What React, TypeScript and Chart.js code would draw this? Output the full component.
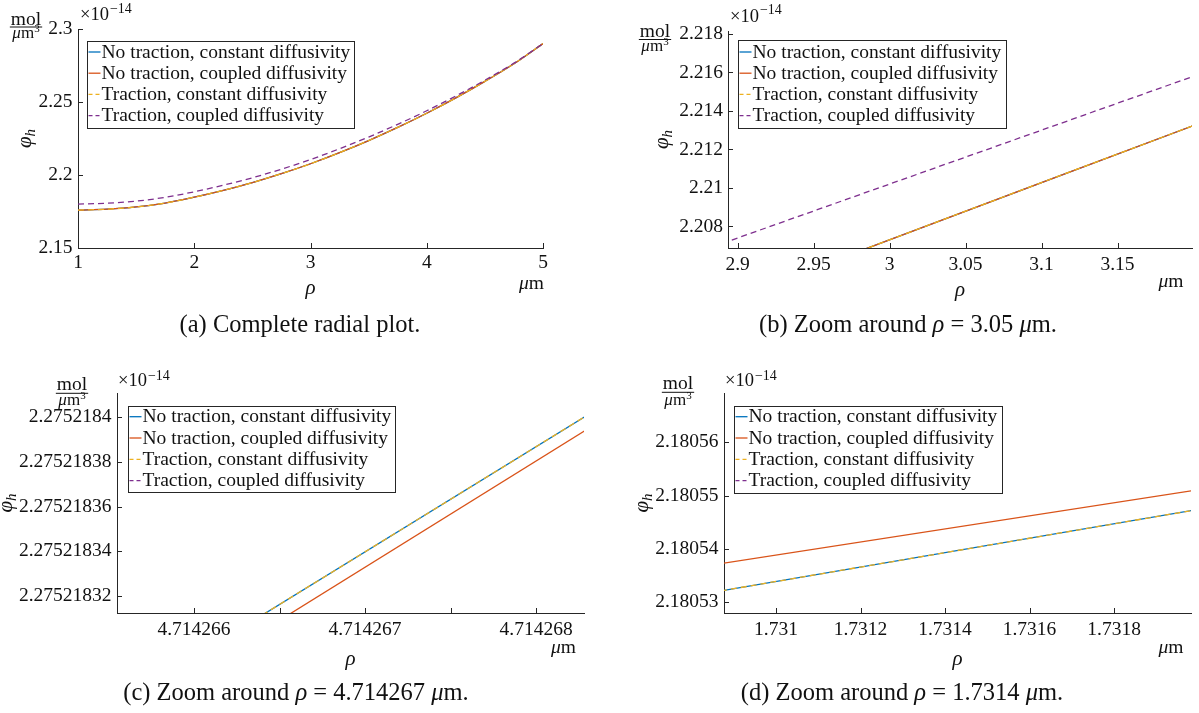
import React, { useEffect, useRef } from 'react';
import { Chart, registerables } from 'chart.js';

Chart.register(...registerables);

// ---------------- data ----------------
const seriesLabels = [
  'No traction, constant diffusivity',
  'No traction, coupled diffusivity',
  'Traction, constant diffusivity',
  'Traction, coupled diffusivity',
];

// (a) complete radial plot
const rhoA = [1, 1.25, 1.5, 1.75, 2, 2.25, 2.5, 2.75, 3, 3.25, 3.5, 3.75, 4, 4.25, 4.5, 4.75, 5];
const phiNoTracConstA = [2.176, 2.1766, 2.1781, 2.1808, 2.1848, 2.1895, 2.1948, 2.2009, 2.2077, 2.2153, 2.2236, 2.2326, 2.2423, 2.2528, 2.2641, 2.2762, 2.29];
const phiNoTracCoupA = [2.176, 2.1766, 2.1781, 2.1808, 2.1848, 2.1895, 2.1948, 2.2009, 2.2077, 2.2153, 2.2236, 2.2326, 2.2423, 2.2528, 2.2641, 2.2762, 2.29];
const phiTracConstA = [2.176, 2.1766, 2.1781, 2.1808, 2.1848, 2.1895, 2.1948, 2.2009, 2.2077, 2.2153, 2.2236, 2.2326, 2.2423, 2.2528, 2.2641, 2.2762, 2.29];
const phiTracCoupA = [2.1801, 2.1807, 2.1821, 2.1847, 2.1885, 2.193, 2.1981, 2.204, 2.2106, 2.218, 2.226, 2.2347, 2.244, 2.2541, 2.2649, 2.2766, 2.29];
const aXTicks = [1, 2, 3, 4, 5];
const aXTickLabels = ['1', '2', '3', '4', '5'];
const aYTicks = [2.15, 2.2, 2.25, 2.3];
const aYTickLabels = ['2.15', '2.2', '2.25', '2.3'];

// (b) zoom around 3.05
const rhoBSolid = [2.98, 3.1, 3.2];
const phiNoTracConstB = [2.20671, 2.21028, 2.21324];
const phiNoTracCoupB = [2.20671, 2.21028, 2.21324];
const phiTracConstB = [2.20671, 2.21028, 2.21324];
const rhoBTrac = [2.89, 3.0, 3.1, 3.2];
const phiTracCoupB = [2.20712, 2.2102, 2.213, 2.2158];
const bXTicks = [2.9, 2.95, 3, 3.05, 3.1, 3.15];
const bXTickLabels = ['2.9', '2.95', '3', '3.05', '3.1', '3.15'];
const bYTicks = [2.208, 2.21, 2.212, 2.214, 2.216, 2.218];
const bYTickLabels = ['2.208', '2.21', '2.212', '2.214', '2.216', '2.218'];

// (c) zoom around 4.714267
const rhoCConst = [4.7142664, 4.7142683];
const phiNoTracConstC = [2.2752183115, 2.275218401];
const rhoCCoup = [4.7142665, 4.7142683];
const phiNoTracCoupC = [2.2752183091, 2.2752183947];
const phiTracConstC = [2.2752183115, 2.275218401];
const phiTracCoupC = [2.2756, 2.2756];
const cXTicks = [4.714266, 4.7142665, 4.714267, 4.7142675, 4.714268];
const cXTickLabels = ['4.714266', '', '4.714267', '', '4.714268'];
const cYTicks = [2.27521832, 2.27521834, 2.27521836, 2.27521838, 2.2752184];
const cYTickLabels = ['2.27521832', '2.27521834', '2.27521836', '2.27521838', '2.2752184'];

// (d) zoom around 1.7314
const rhoD = [1.7308, 1.732];
const phiNoTracConstD = [2.1805312, 2.1805474];
const phiNoTracCoupD = [2.1805364, 2.1805511];
const phiTracConstD = [2.1805312, 2.1805474];
const phiTracCoupD = [2.18443, 2.18445];
const dXTicks = [1.731, 1.7312, 1.7314, 1.7316, 1.7318];
const dXTickLabels = ['1.731', '1.7312', '1.7314', '1.7316', '1.7318'];
const dYTicks = [2.18053, 2.18054, 2.18055, 2.18056];
const dYTickLabels = ['2.18053', '2.18054', '2.18055', '2.18056'];

// ---------------- styles ----------------
const SERIF = '"Liberation Serif", "Times New Roman", serif';
const AXIS_COLOR = '#262626';
const TEXT_COLOR = '#111111';
const seriesColors = ['#0072BD', '#D95319', '#EDB120', '#7E2F8E'];
const seriesDashes = [[], [], [6, 4], [6, 4]];
const TICK_SIZE = 19.5;
const LEG_SIZE = 19.5;
const CAP_SIZE = 24.5;

const fnt = (size: number, italic = false) => `${italic ? 'italic ' : ''}${size}px ${SERIF}`;

type Seg = { t: string; f: string; dy?: number };

function drawSegs(ctx: CanvasRenderingContext2D, segs: Seg[], x: number, y: number, align: 'left' | 'center' | 'right') {
  let total = 0;
  const widths = segs.map((s) => {
    ctx.font = s.f;
    const w = ctx.measureText(s.t).width;
    total += w;
    return w;
  });
  let cx = align === 'left' ? x : align === 'center' ? x - total / 2 : x - total;
  ctx.textAlign = 'left';
  ctx.textBaseline = 'alphabetic';
  segs.forEach((s, i) => {
    ctx.font = s.f;
    ctx.fillText(s.t, cx, y + (s.dy || 0));
    cx += widths[i];
  });
  return total;
}

function captionSegs(tag: string, value: string | null, text?: string): Seg[] {
  if (value === null) return [{ t: `${tag} ${text}`, f: fnt(CAP_SIZE) }];
  return [
    { t: `${tag} Zoom around `, f: fnt(CAP_SIZE) },
    { t: 'ρ', f: fnt(CAP_SIZE, true) },
    { t: ` = ${value} `, f: fnt(CAP_SIZE) },
    { t: 'μ', f: fnt(CAP_SIZE, true) },
    { t: 'm.', f: fnt(CAP_SIZE) },
  ];
}

type Series = { x: number[]; y: number[] };
type Spec = {
  key: string;
  box: { left: number; top: number; width: number; height: number };
  area: { l: number; t: number; r: number; b: number };
  xMin: number; xMax: number; yMin: number; yMax: number;
  xTicks: number[]; xTickLabels: string[]; yTicks: number[]; yTickLabels: string[];
  series: Series[];
  smooth: boolean;
  xPad: number; yPad: number;
  legend: { l: number; t: number; r: number; b: number; rows: number[] };
  frac: { cx: number; mol: number; bar: number; den: number };
  exp: { x: number; base: number; supBase: number };
  ylabX: number;
  rhoBase: number;
  unit: { cx: number; base: number };
  caption: { cx: number; base: number; segs: Seg[] };
};

const panels: Spec[] = [
  {
    key: 'a',
    box: { left: 0, top: 0, width: 600, height: 356 },
    area: { l: 78, t: 29, r: 543, b: 248 },
    xMin: 1, xMax: 5, yMin: 2.15, yMax: 2.3,
    xTicks: aXTicks, xTickLabels: aXTickLabels, yTicks: aYTicks, yTickLabels: aYTickLabels,
    series: [
      { x: rhoA, y: phiNoTracConstA },
      { x: rhoA, y: phiNoTracCoupA },
      { x: rhoA, y: phiTracConstA },
      { x: rhoA, y: phiTracCoupA },
    ],
    smooth: true,
    xPad: 3.5, yPad: 5.5,
    legend: { l: 87, t: 41, r: 354, b: 128, rows: [52, 73.2, 94.4, 115.6] },
    frac: { cx: 26, mol: 25, bar: 27, den: 38 },
    exp: { x: 80, base: 20, supBase: 12.5 },
    ylabX: 31,
    rhoBase: 294,
    unit: { cx: 531.5, base: 289 },
    caption: { cx: 300, base: 332, segs: captionSegs('(a)', null, 'Complete radial plot.') },
  },
  {
    key: 'b',
    box: { left: 600, top: 0, width: 599, height: 356 },
    area: { l: 128, t: 31, r: 592, b: 248 },
    xMin: 2.8937, xMax: 3.199, yMin: 2.20688, yMax: 2.21815,
    xTicks: bXTicks, xTickLabels: bXTickLabels, yTicks: bYTicks, yTickLabels: bYTickLabels,
    series: [
      { x: rhoBSolid, y: phiNoTracConstB },
      { x: rhoBSolid, y: phiNoTracCoupB },
      { x: rhoBSolid, y: phiTracConstB },
      { x: rhoBTrac, y: phiTracCoupB },
    ],
    smooth: false,
    xPad: 5.5, yPad: 5,
    legend: { l: 138, t: 40, r: 406, b: 128, rows: [52, 73.2, 94.4, 115.6] },
    frac: { cx: 55, mol: 36.5, bar: 39.5, den: 50.5 },
    exp: { x: 130, base: 21.7, supBase: 14 },
    ylabX: 68,
    rhoBase: 296,
    unit: { cx: 571, base: 287 },
    caption: { cx: 308, base: 332, segs: captionSegs('(b)', '3.05') },
  },
  {
    key: 'c',
    box: { left: 0, top: 356, width: 600, height: 357 },
    area: { l: 117, t: 37, r: 584, b: 257 },
    xMin: 4.71426555, xMax: 4.71426828, yMin: 2.2752183124, yMax: 2.2752184109,
    xTicks: cXTicks, xTickLabels: cXTickLabels, yTicks: cYTicks, yTickLabels: cYTickLabels,
    series: [
      { x: rhoCConst, y: phiNoTracConstC },
      { x: rhoCCoup, y: phiNoTracCoupC },
      { x: rhoCConst, y: phiTracConstC },
      { x: rhoCConst, y: phiTracCoupC },
    ],
    smooth: false,
    xPad: 5.5, yPad: 5.5,
    legend: { l: 128, t: 49.7, r: 395, b: 136, rows: [60.7, 82, 103.3, 124.7] },
    frac: { cx: 72, mol: 34, bar: 37.3, den: 49 },
    exp: { x: 118, base: 29.7, supBase: 24 },
    ylabX: 12,
    rhoBase: 308.5,
    unit: { cx: 563.5, base: 297 },
    caption: { cx: 296, base: 344, segs: captionSegs('(c)', '4.714267') },
  },
  {
    key: 'd',
    box: { left: 600, top: 356, width: 599, height: 357 },
    area: { l: 124, t: 37, r: 591, b: 257 },
    xMin: 1.730877, xMax: 1.731982, yMin: 2.180528, yMax: 2.1805692,
    xTicks: dXTicks, xTickLabels: dXTickLabels, yTicks: dYTicks, yTickLabels: dYTickLabels,
    series: [
      { x: rhoD, y: phiNoTracConstD },
      { x: rhoD, y: phiNoTracCoupD },
      { x: rhoD, y: phiTracConstD },
      { x: rhoD, y: phiTracCoupD },
    ],
    smooth: false,
    xPad: 5.5, yPad: 5.5,
    legend: { l: 134, t: 49.7, r: 402, b: 137, rows: [60.7, 82, 103.3, 124.7] },
    frac: { cx: 78, mol: 33.3, bar: 36.3, den: 49 },
    exp: { x: 125, base: 29.7, supBase: 24 },
    ylabX: 48,
    rhoBase: 308.5,
    unit: { cx: 571, base: 297 },
    caption: { cx: 302, base: 344, segs: captionSegs('(d)', '1.7314') },
  },
];

function decorPlugin(spec: Spec) {
  return {
    id: 'decor_' + spec.key,
    afterDraw(chart: any) {
      const ctx: CanvasRenderingContext2D = chart.ctx;
      const ca = chart.chartArea;
      const xs = chart.scales.x;
      const ys = chart.scales.y;
      ctx.save();
      // inward ticks
      ctx.strokeStyle = AXIS_COLOR;
      ctx.lineWidth = 1;
      ctx.setLineDash([]);
      ctx.beginPath();
      xs.ticks.forEach((t: any) => {
        const px = Math.round(xs.getPixelForValue(t.value)) + 0.5;
        ctx.moveTo(px, ca.bottom);
        ctx.lineTo(px, ca.bottom - 5);
      });
      ys.ticks.forEach((t: any) => {
        const py = Math.round(ys.getPixelForValue(t.value)) + 0.5;
        ctx.moveTo(ca.left, py);
        ctx.lineTo(ca.left + 5, py);
      });
      ctx.stroke();

      // legend
      const lg = spec.legend;
      ctx.fillStyle = '#ffffff';
      ctx.fillRect(lg.l, lg.t, lg.r - lg.l, lg.b - lg.t);
      ctx.strokeStyle = AXIS_COLOR;
      ctx.lineWidth = 1;
      ctx.strokeRect(Math.round(lg.l) + 0.5, Math.round(lg.t) + 0.5, Math.round(lg.r - lg.l), Math.round(lg.b - lg.t));
      seriesLabels.forEach((label, i) => {
        const y = lg.rows[i];
        ctx.strokeStyle = seriesColors[i];
        ctx.lineWidth = 1.3;
        ctx.setLineDash(i >= 2 ? [4, 3] : []);
        ctx.beginPath();
        ctx.moveTo(lg.l + 1.5, y);
        ctx.lineTo(lg.l + 13.5, y);
        ctx.stroke();
        ctx.setLineDash([]);
        ctx.fillStyle = TEXT_COLOR;
        ctx.font = fnt(LEG_SIZE);
        ctx.textAlign = 'left';
        ctx.textBaseline = 'middle';
        ctx.fillText(label, lg.l + 14.5, y + 0.5);
      });

      ctx.fillStyle = TEXT_COLOR;
      // unit fraction mol / µm^3
      const fr = spec.frac;
      drawSegs(ctx, [{ t: 'mol', f: fnt(19.5) }], fr.cx, fr.mol, 'center');
      const denW = drawSegs(
        ctx,
        [
          { t: 'μ', f: fnt(17, true) },
          { t: 'm', f: fnt(17) },
          { t: '3', f: fnt(11), dy: -6 },
        ],
        fr.cx,
        fr.den,
        'center'
      );
      ctx.font = fnt(19.5);
      const molW = ctx.measureText('mol').width;
      const bw = Math.max(molW, denW) + 2;
      ctx.fillRect(fr.cx - bw / 2, fr.bar - 0.5, bw, 1);

      // exponent ×10^-14
      const ex = spec.exp;
      const w10 = drawSegs(ctx, [{ t: '×10', f: fnt(18.5) }], ex.x, ex.base, 'left');
      drawSegs(ctx, [{ t: '−14', f: fnt(14) }], ex.x + w10 + 1, ex.supBase, 'left');

      // y label φ_h (rotated)
      ctx.save();
      ctx.translate(spec.ylabX, (ca.top + ca.bottom) / 2);
      ctx.rotate(-Math.PI / 2);
      drawSegs(
        ctx,
        [
          { t: 'φ', f: fnt(21, true) },
          { t: 'h', f: fnt(15, true), dy: 4 },
        ],
        0,
        0,
        'center'
      );
      ctx.restore();

      // x label ρ and unit µm
      drawSegs(ctx, [{ t: 'ρ', f: fnt(21, true) }], (ca.left + ca.right) / 2, spec.rhoBase, 'center');
      drawSegs(
        ctx,
        [
          { t: 'μ', f: fnt(19.5, true) },
          { t: 'm', f: fnt(19.5) },
        ],
        spec.unit.cx,
        spec.unit.base,
        'center'
      );

      // caption
      drawSegs(ctx, spec.caption.segs, spec.caption.cx, spec.caption.base, 'center');
      ctx.restore();
    },
  };
}

function makeChart(canvas: HTMLCanvasElement, spec: Spec) {
  const W = spec.box.width;
  const H = spec.box.height;
  const datasets = spec.series.map((s, i) => ({
    label: seriesLabels[i],
    data: s.x.map((x, j) => ({ x, y: s.y[j] })),
    borderColor: seriesColors[i],
    backgroundColor: seriesColors[i],
    borderWidth: 1.3,
    borderDash: seriesDashes[i],
    pointRadius: 0,
    pointHoverRadius: 0,
    fill: false,
    tension: 0,
    cubicInterpolationMode: spec.smooth ? 'monotone' : 'default',
    order: 4 - i,
  }));
  const tickFont = { family: SERIF, size: TICK_SIZE, lineHeight: 1.2 };
  return new Chart(canvas, {
    type: 'line',
    data: { datasets } as any,
    options: {
      animation: false,
      responsive: false,
      maintainAspectRatio: false,
      events: [],
      layout: { padding: { left: 0, top: spec.area.t, right: W - spec.area.r, bottom: 0 } },
      plugins: { legend: { display: false }, tooltip: { enabled: false } },
      scales: {
        x: {
          type: 'linear',
          position: 'bottom',
          min: spec.xMin,
          max: spec.xMax,
          grid: { display: false, drawTicks: false },
          border: { display: true, color: AXIS_COLOR, width: 1 },
          ticks: {
            autoSkip: false,
            maxRotation: 0,
            minRotation: 0,
            padding: spec.xPad,
            color: TEXT_COLOR,
            font: tickFont,
            callback: (_v: any, i: number) => spec.xTickLabels[i] ?? '',
          },
          afterBuildTicks: (s: any) => {
            s.ticks = spec.xTicks.map((v) => ({ value: v }));
          },
          afterFit: (s: any) => {
            s.height = H - spec.area.b;
          },
        },
        y: {
          type: 'linear',
          position: 'left',
          min: spec.yMin,
          max: spec.yMax,
          grid: { display: false, drawTicks: false },
          border: { display: true, color: AXIS_COLOR, width: 1 },
          ticks: {
            autoSkip: false,
            padding: spec.yPad,
            color: TEXT_COLOR,
            font: tickFont,
            callback: (_v: any, i: number) => spec.yTickLabels[i] ?? '',
          },
          afterBuildTicks: (s: any) => {
            s.ticks = spec.yTicks.map((v) => ({ value: v }));
          },
          afterFit: (s: any) => {
            s.width = spec.area.l;
          },
        },
      },
    } as any,
    plugins: [decorPlugin(spec)],
  });
}

function Panel({ spec }: { spec: Spec }) {
  const ref = useRef<HTMLCanvasElement>(null);
  useEffect(() => {
    if (!ref.current) return;
    const chart = makeChart(ref.current, spec);
    return () => chart.destroy();
  }, [spec]);
  return (
    <canvas
      ref={ref}
      width={spec.box.width}
      height={spec.box.height}
      style={{
        position: 'absolute',
        left: spec.box.left,
        top: spec.box.top,
        width: spec.box.width,
        height: spec.box.height,
      }}
    />
  );
}

export default function App() {
  return (
    <div style={{ position: 'absolute', left: 0, top: 0, width: 1199, height: 713, background: '#ffffff', overflow: 'hidden' }}>
      {panels.map((p) => (
        <Panel key={p.key} spec={p} />
      ))}
    </div>
  );
}
